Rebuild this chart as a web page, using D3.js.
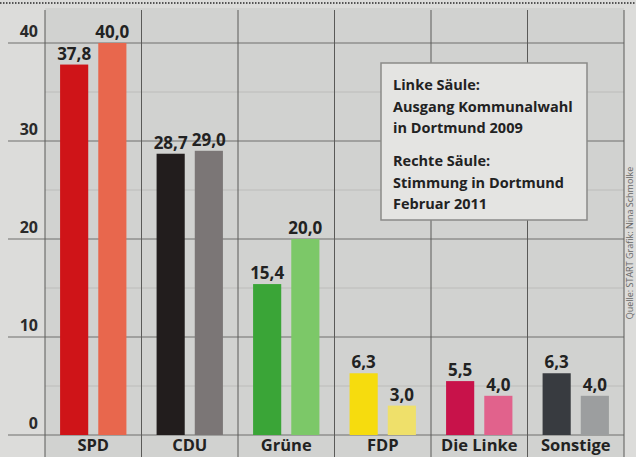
<!DOCTYPE html>
<html>
<head>
<meta charset="utf-8">
<script src="https://cdn.jsdelivr.net/npm/d3@7"></script>
<style>
  html, body { margin: 0; padding: 0; background: #d8d8d5; }
  svg { display: block; }
</style>
</head>
<body>
<div id="chart"></div>
<script>
// Kommunalwahl Dortmund 2009 vs. Stimmung Februar 2011 (Prozent)
const parties = ["SPD", "CDU", "Grüne", "FDP", "Die Linke", "Sonstige"]
const wahl2009 = [37.8, 28.7, 15.4, 6.3, 5.5, 6.3]
const stimmung2011 = [40.0, 29.0, 20.0, 3.0, 4.0, 4.0]
const yTicks = [0, 10, 20, 30, 40]
const minorTicks = [5, 15, 25, 35]

// Farben : linke Säule kräftig, rechte Säule heller
const colorsLeft = ["#cf1418", "#221d1d", "#3aa537", "#f6dc0e", "#c8124a", "#383b40"]
const colorsRight = ["#e8674d", "#7b7676", "#7cc868", "#efe06a", "#e1628c", "#9c9e9f"]

const W = 636, H = 457
const svg = d3.select("#chart").append("svg")
  .attr("width", W).attr("height", H)
  .style("font-family", "'Open Sans', 'Noto Sans', sans-serif")

svg.append("rect").attr("width", W).attr("height", H).attr("fill", "#dcdcda")

// Zeichenfläche leicht grauer
svg.append("rect").attr("x", 45).attr("y", 8).attr("width", 579).attr("height", 449)
  .attr("fill", "#d1d2d0")

// gepunktete Linie oben
svg.append("line").attr("x1", 0).attr("x2", W).attr("y1", 3).attr("y2", 3)
  .attr("stroke", "#555").attr("stroke-width", 2).attr("stroke-dasharray", "1.5,1.5")

const y = d3.scaleLinear().domain([0, 40]).range([435, 43])
const x = d3.scaleBand().domain(parties).range([45, 624]).padding(0)
const xs = d3.scaleBand().domain([0, 1]).range([0, x.bandwidth()])
  .paddingInner(0.263).paddingOuter(0.395)

// --- Gitter ---
svg.append("g").selectAll("line").data(minorTicks).join("line")
  .attr("x1", 45).attr("x2", 624)
  .attr("y1", d => y(d)).attr("y2", d => y(d))
  .attr("stroke", "#bcbcba").attr("stroke-width", 1)

svg.append("g").selectAll("line").data(yTicks).join("line")
  .attr("x1", 8).attr("x2", 624)
  .attr("y1", d => y(d)).attr("y2", d => y(d))
  .attr("stroke", "#6e6e6c").attr("stroke-width", 1)

// Trennlinien zwischen Parteien
const seps = parties.map(p => x(p)).concat([x.range()[1]])
svg.append("g").selectAll("line").data(seps).join("line")
  .attr("x1", d => d).attr("x2", d => d)
  .attr("y1", 10).attr("y2", H)
  .attr("stroke", "#5a5a58").attr("stroke-width", 1)

// Achsenbeschriftung
svg.append("g").selectAll("text").data(yTicks).join("text")
  .attr("x", 38).attr("y", d => y(d) - 6)
  .attr("text-anchor", "end")
  .attr("font-size", 16).attr("font-weight", 700).attr("fill", "#2a2a2a")
  .text(d => d)

// --- Säulen ---
const rows = parties.map((p, i) => [
  { party: p, k: 0, v: wahl2009[i], c: colorsLeft[i] },
  { party: p, k: 1, v: stimmung2011[i], c: colorsRight[i] },
]).flat()

const fmt = v => v.toFixed(1).replace(".", ",")

svg.append("g").selectAll("rect").data(rows).join("rect")
  .attr("x", d => x(d.party) + xs(d.k))
  .attr("y", d => y(d.v))
  .attr("width", xs.bandwidth())
  .attr("height", d => y(0) - y(d.v))
  .attr("fill", d => d.c)

svg.append("g").selectAll("text").data(rows).join("text")
  .attr("x", d => x(d.party) + xs(d.k) + xs.bandwidth() / 2)
  .attr("y", d => y(d.v) - 5)
  .attr("text-anchor", "middle")
  .attr("font-size", 17).attr("font-weight", 700).attr("fill", "#222")
  .text(d => fmt(d.v))

// Kategorien unten
svg.append("g").selectAll("text").data(parties).join("text")
  .attr("x", d => x(d) + x.bandwidth() / 2)
  .attr("y", 451)
  .attr("text-anchor", "middle")
  .attr("font-size", 16.5).attr("font-weight", 700).attr("fill", "#222")
  .text(d => d)

// --- Legende ---
const lg = svg.append("g").attr("transform", "translate(381,63)")
lg.append("rect").attr("width", 206).attr("height", 157)
  .attr("fill", "#e4e4e2").attr("stroke", "#8a8a88").attr("stroke-width", 1.5)
const legendLines = [
  ["Linke Säule:", 22], ["Ausgang Kommunalwahl", 44], ["in Dortmund 2009", 65],
  ["Rechte Säule:", 98], ["Stimmung in Dortmund", 120], ["Februar 2011", 141],
]
lg.selectAll("text").data(legendLines).join("text")
  .attr("x", 12).attr("y", d => d[1] + 5)
  .attr("font-size", 14.5).attr("font-weight", 700).attr("fill", "#222")
  .text(d => d[0])

// Quelle
svg.append("text")
  .attr("transform", "translate(633,243) rotate(-90)")
  .attr("text-anchor", "middle")
  .attr("font-size", 9).attr("fill", "#666")
  .text("Quelle: START Grafik: Nina Schmolke")
</script>
</body>
</html>
